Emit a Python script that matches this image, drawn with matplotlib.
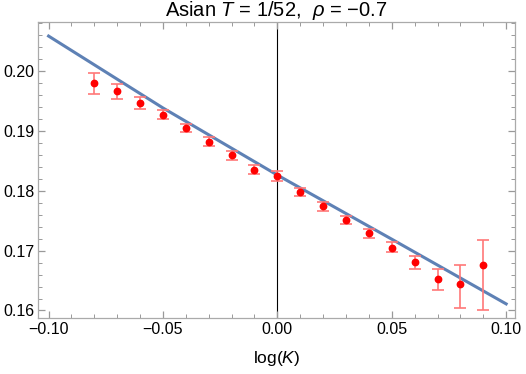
import matplotlib
matplotlib.use('Agg')
from matplotlib import pyplot as plt
from matplotlib.ticker import MultipleLocator

plt.rcParams['font.family'] = ['Liberation Sans', 'DejaVu Sans']
plt.rcParams['mathtext.fontset'] = 'custom'
plt.rcParams['mathtext.rm'] = 'Liberation Sans'
plt.rcParams['mathtext.it'] = 'Liberation Sans:italic'

# model curve
line_x = [-0.10, -0.05, 0.00, 0.05, 0.10]
line_y = [0.2058, 0.1938, 0.1826, 0.1719, 0.1611]

# simulated points with (asymmetric) error bars
logk = [-0.08, -0.07, -0.06, -0.05, -0.04, -0.03, -0.02, -0.01, 0.00,
        0.01, 0.02, 0.03, 0.04, 0.05, 0.06, 0.07, 0.08, 0.09]
vol = [0.19789, 0.19655, 0.19455, 0.19266, 0.19049, 0.18815, 0.18587, 0.18348, 0.18242,
       0.17975, 0.17736, 0.17508, 0.17285, 0.17051, 0.16812, 0.16524, 0.16445, 0.16751]
err_lo = [0.00184, 0.00128, 0.0010, 0.00078, 0.00072, 0.00072, 0.00072, 0.00072, 0.00089,
          0.00072, 0.00072, 0.00072, 0.00067, 0.00078, 0.00117, 0.0019, 0.0041, 0.0074]
err_hi = [0.00167, 0.00128, 0.0010, 0.00083, 0.00061, 0.00078, 0.00067, 0.00072, 0.00078,
          0.00067, 0.00067, 0.00072, 0.00067, 0.00089, 0.0010, 0.0017, 0.0031, 0.0043]

fig = plt.figure(figsize=(5.26, 3.74), dpi=100)
ax = fig.add_axes([0.0728, 0.149, 0.906, 0.793])

ax.axvline(0, color='black', lw=0.8, zorder=1)
ax.plot(line_x, line_y, color='#5E81B5', lw=2.2, zorder=2)
ax.errorbar(logk, vol, yerr=[err_lo, err_hi], fmt='none', ecolor='#FF7878', elinewidth=1.2,
            capsize=4.5, capthick=1.2, zorder=3)
ax.plot(logk, vol, 'o', color='red', ms=4.6, mec='red', zorder=4)

ax.set_xlim(-0.1045, 0.1038)
ax.set_ylim(0.1587, 0.2082)
ax.xaxis.set_minor_locator(MultipleLocator(0.01))
ax.yaxis.set_major_locator(MultipleLocator(0.01))
ax.yaxis.set_minor_locator(MultipleLocator(0.002))
ax.yaxis.set_major_formatter(plt.FormatStrFormatter('%.2f'))
ax.tick_params(which='both', direction='in', top=True, right=True, color='#999999',
               labelsize=11.5, pad=3)
ax.tick_params(which='major', length=5, width=0.9)
ax.tick_params(which='minor', length=3, width=0.7)
ax.set_xticks([-0.10, -0.05, 0.00, 0.05, 0.10])
ax.set_xticklabels(['\u22120.10', '\u22120.05', '0.00', '0.05', '0.10'])
for s in ax.spines.values():
    s.set_color('#aaaaaa')
    s.set_linewidth(0.9)

ax.set_xlabel('log($K$)', fontsize=12.5, labelpad=8)
ax.set_title('Asian $T$ = 1/52,  $\\rho$ = \u22120.7', fontsize=14.5, pad=2)

fig.savefig('out.png', dpi=100)
